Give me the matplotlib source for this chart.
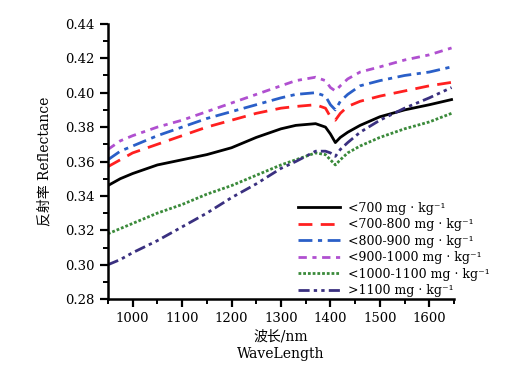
import numpy as np
import matplotlib
matplotlib.use("Agg")
import matplotlib.pyplot as plt
from matplotlib.ticker import MultipleLocator

plt.rcParams['font.family'] = ['DejaVu Serif', 'Noto Sans CJK SC']

wl = [950, 975, 1000, 1050, 1100, 1150, 1200, 1250, 1300, 1330, 1370, 1390,
      1400, 1410, 1420, 1435, 1460, 1500, 1550, 1600, 1645]

r_700 = [0.346, 0.350, 0.353, 0.358, 0.361, 0.364, 0.368, 0.374, 0.379, 0.381, 0.382,
         0.380, 0.376, 0.371, 0.374, 0.377, 0.381, 0.386, 0.390, 0.393, 0.396]
r_700_800 = [0.357, 0.361, 0.365, 0.370, 0.375, 0.380, 0.384, 0.388, 0.391, 0.392, 0.393,
             0.391, 0.386, 0.384, 0.388, 0.392, 0.395, 0.398, 0.401, 0.404, 0.406]
r_800_900 = [0.361, 0.366, 0.369, 0.375, 0.380, 0.385, 0.389, 0.393, 0.397, 0.399, 0.400,
             0.398, 0.393, 0.390, 0.395, 0.399, 0.404, 0.407, 0.410, 0.412, 0.415]
r_900_1000 = [0.367, 0.372, 0.375, 0.380, 0.384, 0.389, 0.394, 0.399, 0.404, 0.407, 0.409,
              0.407, 0.403, 0.401, 0.404, 0.408, 0.412, 0.415, 0.419, 0.422, 0.426]
r_1000_1100 = [0.318, 0.321, 0.324, 0.330, 0.335, 0.341, 0.346, 0.352, 0.358, 0.361, 0.365,
               0.364, 0.361, 0.358, 0.361, 0.365, 0.369, 0.374, 0.379, 0.383, 0.388]
r_1100 = [0.300, 0.303, 0.307, 0.314, 0.322, 0.330, 0.339, 0.347, 0.356, 0.360, 0.366,
          0.366, 0.365, 0.363, 0.367, 0.371, 0.377, 0.384, 0.391, 0.397, 0.403]

labels = ["<700 mg · kg⁻¹", "<700-800 mg · kg⁻¹", "<800-900 mg · kg⁻¹",
          "<900-1000 mg · kg⁻¹", "<1000-1100 mg · kg⁻¹", ">1100 mg · kg⁻¹"]

fig = plt.figure(figsize=(5.09, 3.73), dpi=100)
ax = fig.add_axes([0.212, 0.198, 0.68, 0.738])

ax.plot(wl, r_700, color="black", lw=2, label=labels[0])
ax.plot(wl, r_700_800, color="#ff2020", lw=2, dashes=(5, 3), label=labels[1])
ax.plot(wl, r_800_900, color="#2a5fc8", lw=2, dashes=(5, 2, 1.5, 2), label=labels[2])
ax.plot(wl, r_900_1000, color="#b050d0", lw=2, dashes=(3, 2, 1.5, 2), label=labels[3])
ax.plot(wl, r_1000_1100, color="#3a8a3a", lw=2, dashes=(1, 0.7), label=labels[4])
ax.plot(wl, r_1100, color="#3a3080", lw=2, dashes=(4, 1.5, 1.2, 1.5, 1.2, 1.5), label=labels[5])

ax.set_xlim(950, 1650)
ax.set_ylim(0.28, 0.44)
ax.xaxis.set_minor_locator(MultipleLocator(50))
ax.yaxis.set_major_locator(MultipleLocator(0.02))
ax.yaxis.set_minor_locator(MultipleLocator(0.01))
ax.yaxis.set_major_formatter(plt.FormatStrFormatter("%.2f"))
ax.set_xticks([1000, 1100, 1200, 1300, 1400, 1500, 1600])

for s in ["top", "right"]:
    ax.spines[s].set_visible(False)
for s in ["left", "bottom"]:
    ax.spines[s].set_linewidth(1.8)
ax.tick_params(which="major", direction="out", length=6, width=1.6, labelsize=9.5)
ax.tick_params(which="minor", direction="out", length=3.5, width=1.4)

ax.set_ylabel("反射率 Reflectance", fontsize=10, labelpad=10)
ax.set_xlabel("波长/nm\nWaveLength", fontsize=10, linespacing=1.35, labelpad=3)

ax.legend(loc="lower left", bbox_to_anchor=(0.585, 0.203), bbox_transform=fig.transFigure,
          frameon=False, fontsize=9, borderpad=0, borderaxespad=0,
          handlelength=3.4, handletextpad=0.6, labelspacing=0.28)

fig.savefig("out.png", dpi=100)
